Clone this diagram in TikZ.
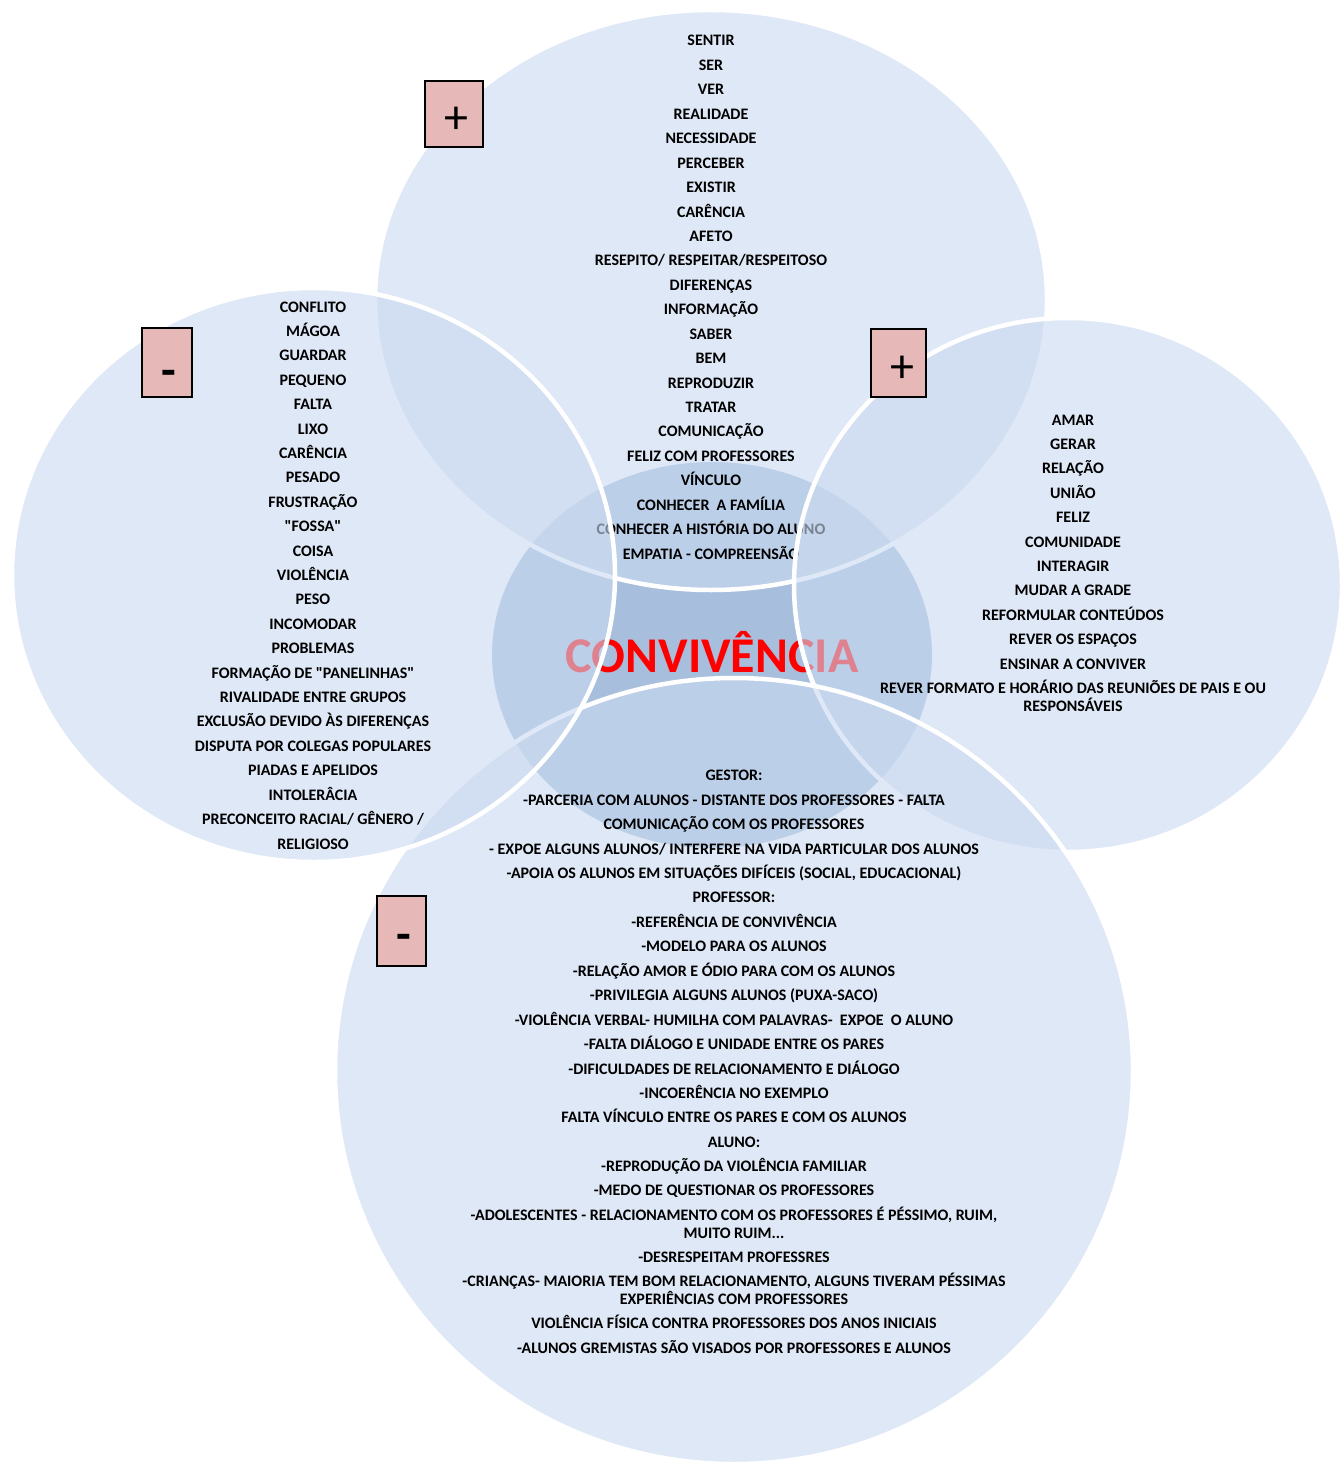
\documentclass[tikz,border=0pt]{standalone}
\usepackage{fontspec}
\setmainfont{Carlito}
\definecolor{ctrfill}{RGB}{167,191,221}
\definecolor{outerfill}{RGB}{202,218,240}
\definecolor{boxpink}{RGB}{230,185,184}
\definecolor{convred}{RGB}{255,0,0}
\tikzset{
  venn/.style={fill=outerfill, fill opacity=0.6},
  rim/.style={draw=white, line width=4.5pt},
  lbl/.style={font=\fontsize{16}{19}\selectfont\bfseries, anchor=base, inner sep=0pt, text=black},
  signbox/.style={draw=black, line width=2pt, fill=boxpink, inner sep=0pt},
  plusfont/.style={font=\fontsize{48}{48}\selectfont},
  minusfont/.style={font=\fontsize{48}{48}\selectfont\bfseries},
}
\begin{document}
\begin{tikzpicture}[x=1pt, y=-1pt]
\useasboundingbox (0,0) rectangle (1342,1463);
\fill[white] (0,0) rectangle (1342,1463);
% centre
\fill[ctrfill] (712,655) ellipse [x radius=220, y radius=193];
\node[font=\fontsize{50}{50}\selectfont\bfseries, text=convred, anchor=base, inner sep=0pt] (conv) at (712,672) {CONVIVÊNCIA};
% top
\fill[venn] (711,300) ellipse [x radius=336, y radius=290];
\draw[rim] (711,300) ellipse [x radius=336, y radius=290];
\foreach \t [count=\i from 0] in {SENTIR, SER, VER, REALIDADE, NECESSIDADE, PERCEBER, EXISTIR, CARÊNCIA, AFETO, RESEPITO/ RESPEITAR/RESPEITOSO, DIFERENÇAS, INFORMAÇÃO, SABER, BEM, REPRODUZIR, TRATAR, COMUNICAÇÃO, FELIZ COM PROFESSORES, VÍNCULO, CONHECER~ A FAMÍLIA, CONHECER A HISTÓRIA DO ALUNO, EMPATIA - COMPREENSÃO}
  \node[lbl] (top\i) at (711,{46+24.43*\i}) {\t};
% right
\fill[venn] (1068,585) ellipse [x radius=274, y radius=267];
\draw[rim] (1068,585) ellipse [x radius=274, y radius=267];
\foreach \t [count=\i from 0] in {AMAR, GERAR, RELAÇÃO, UNIÃO, FELIZ, COMUNIDADE, INTERAGIR, MUDAR A GRADE, REFORMULAR CONTEÚDOS, REVER OS ESPAÇOS, ENSINAR A CONVIVER, REVER FORMATO E HORÁRIO DAS REUNIÕES DE PAIS E OU}
  \node[lbl] (rt\i) at (1073,{425+24.4*\i}) {\t};
\node[lbl] (rt12) at (1073,711) {RESPONSÁVEIS};
% bottom
\fill[venn] (734,1071) ellipse [x radius=399, y radius=393];
\draw[rim] (734,1071) ellipse [x radius=399, y radius=393];
\foreach \y/\t [count=\i] in {
  775/GESTOR:,
  800/-PARCERIA COM ALUNOS - DISTANTE DOS PROFESSORES - FALTA,
  824/COMUNICAÇÃO COM OS PROFESSORES,
  849/{- EXPOE ALGUNS ALUNOS/ INTERFERE NA VIDA PARTICULAR DOS ALUNOS},
  873/{-APOIA OS ALUNOS EM SITUAÇÕES DIFÍCEIS (SOCIAL, EDUCACIONAL)},
  897/PROFESSOR:,
  922/-REFERÊNCIA DE CONVIVÊNCIA,
  946/-MODELO PARA OS ALUNOS,
  971/-RELAÇÃO AMOR E ÓDIO PARA COM OS ALUNOS,
  995/-PRIVILEGIA ALGUNS ALUNOS (PUXA-SACO),
  1020/-VIOLÊNCIA VERBAL- HUMILHA COM PALAVRAS-~ EXPOE~ O ALUNO,
  1044/-FALTA DIÁLOGO E UNIDADE ENTRE OS PARES,
  1069/-DIFICULDADES DE RELACIONAMENTO E DIÁLOGO,
  1093/-INCOERÊNCIA NO EXEMPLO,
  1117/FALTA VÍNCULO ENTRE OS PARES E COM OS ALUNOS,
  1142/ALUNO:,
  1166/-REPRODUÇÃO DA VIOLÊNCIA FAMILIAR,
  1190/-MEDO DE QUESTIONAR OS PROFESSORES,
  1215/{-ADOLESCENTES - RELACIONAMENTO COM OS PROFESSORES É PÉSSIMO, RUIM,},
  1233/{MUITO RUIM.{}.{}.},
  1257/-DESRESPEITAM PROFESSRES,
  1281/{-CRIANÇAS- MAIORIA TEM BOM RELACIONAMENTO, ALGUNS TIVERAM PÉSSIMAS},
  1299/EXPERIÊNCIAS COM PROFESSORES,
  1323/VIOLÊNCIA FÍSICA CONTRA PROFESSORES DOS ANOS INICIAIS,
  1348/-ALUNOS GREMISTAS SÃO VISADOS POR PROFESSORES E ALUNOS}
  \node[lbl] (bt\i) at (734,{\y+5}) {\t};
% left
\fill[venn] (313.5,575) ellipse [x radius=301.5, y radius=287];
\draw[rim] (313.5,575) ellipse [x radius=301.5, y radius=287];
\foreach \t [count=\i from 0] in {CONFLITO, MÁGOA, GUARDAR, PEQUENO, FALTA, LIXO, CARÊNCIA, PESADO, FRUSTRAÇÃO, \textquotedbl FOSSA\textquotedbl, COISA, VIOLÊNCIA, PESO, INCOMODAR, PROBLEMAS, FORMAÇÃO DE \textquotedbl PANELINHAS\textquotedbl, RIVALIDADE ENTRE GRUPOS, EXCLUSÃO DEVIDO ÀS DIFERENÇAS, DISPUTA POR COLEGAS POPULARES, PIADAS E APELIDOS, INTOLERÂCIA, PRECONCEITO RACIAL/ GÊNERO /, RELIGIOSO}
  \node[lbl] (lt\i) at (313,{312+24.41*\i}) {\t};
% sign boxes
\node[signbox, minimum width=58pt, minimum height=66pt] (b1) at (454,114) {};
\node[plusfont, inner sep=0pt] (s1) at (456,120) {+};
\node[signbox, minimum width=50pt, minimum height=69pt] (b2) at (167,362.5) {};
\node[minusfont, inner sep=0pt] (s2) at (169,378) {-};
\node[signbox, minimum width=55pt, minimum height=68pt] (b3) at (898.5,363) {};
\node[plusfont, inner sep=0pt] (s3) at (902,369) {+};
\node[signbox, minimum width=49pt, minimum height=70pt] (b4) at (401.5,931) {};
\node[minusfont, inner sep=0pt] (s4) at (404,942) {-};
\end{tikzpicture}
\end{document}
